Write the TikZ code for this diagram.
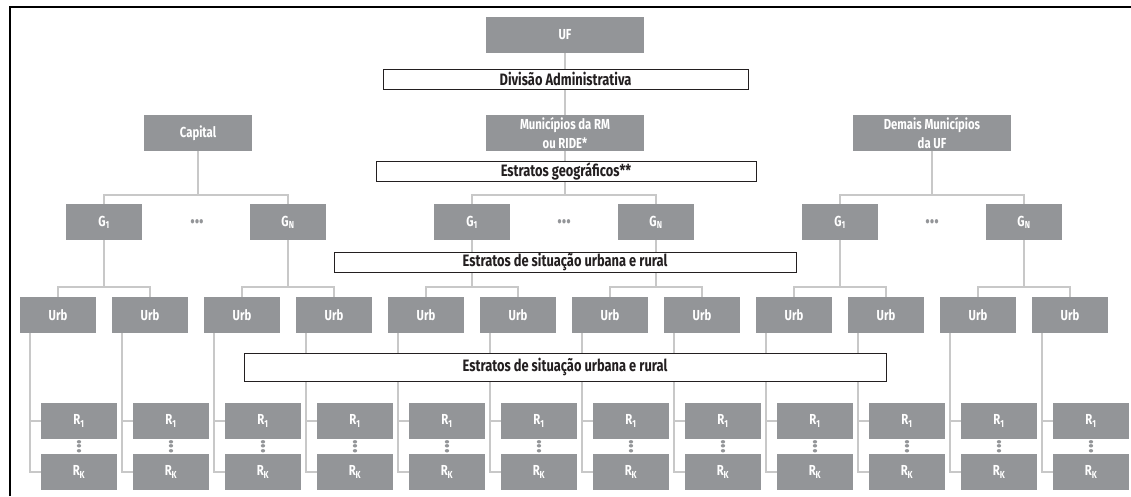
\documentclass[tikz,border=0pt]{standalone}
\usepackage{fontspec}
\newfontfamily\chartfont[FakeStretch=0.78]{Fira Sans}
\usetikzlibrary{positioning}
\definecolor{boxgray}{RGB}{147,149,152}
\definecolor{linkgray}{RGB}{200,200,200}
\definecolor{inkblack}{RGB}{35,31,32}
\pgfdeclarelayer{background}
\pgfsetlayers{background,main}

\begin{document}
\begin{tikzpicture}[x=1pt, y=-1pt,
  graybox/.style={fill=boxgray, text=white, minimum width=76pt, minimum height=36pt,
    inner sep=0pt, align=center, font=\chartfont\bfseries\fontsize{14.5}{19}\selectfont},
  bandbox/.style={draw=inkblack, line width=0.9pt, fill=white, minimum height=20pt,
    inner sep=0pt, text=inkblack, font=\chartfont\bfseries\fontsize{16.5}{17}\selectfont},
  link/.style={draw=linkgray, line width=1.4pt},
  dotmark/.style={text=boxgray, inner sep=0pt, font=\chartfont\bfseries\fontsize{24}{24}\selectfont}]
  \useasboundingbox (0,0) rectangle (1131,496);
  % frame
  \draw[line width=2pt] (9.5,496) -- (9.5,7) -- (1131,7);
  % administrative levels
  \node[graybox, minimum width=158pt] (uf) at (565,35) {UF};
  \node[bandbox, minimum width=365pt] (divisao) at (565.5,79) {Divisão Administrativa};
  \node[graybox, minimum width=108pt] (capital) at (198,133) {Capital};
  \node[graybox, minimum width=158pt] (rm) at (565,133) {Municípios da RM\\ou RIDE*};
  \node[graybox, minimum width=158pt] (demais) at (932,133) {Demais Municípios\\da UF};
  \node[bandbox, minimum width=380pt] (geo) at (566,171) {Estratos geográficos**};
  % geographic strata
  \foreach \j/\sub in {1/1,2/N,3/1,4/N,5/1,6/N}
    \node[graybox] (g\j) at ({104+184*(\j-1)},222) {G\textsubscript{\sub}};
  \foreach \x [count=\k] in {197,564,932}
    \node[dotmark] (gdots\k) at (\x,222) {...};
  \node[bandbox, minimum width=462pt] (situacao) at (565,262) {Estratos de situação urbana e rural};
  % urban / rural strata
  \foreach \i in {1,...,12}{
    \node[graybox] (u\i) at ({58+92*(\i-1)},315) {Urb};
    \node[graybox] (r\i) at ({79+92*(\i-1)},421) {R\textsubscript{1}};
    \node[graybox] (rk\i) at ({79+92*(\i-1)},472) {R\textsubscript{K}};
    \node[dotmark, rotate=90] (rdots\i) at ({79+92*(\i-1)},446.5) {...};
  }
  \node[bandbox, minimum width=642pt, minimum height=28pt] (situacao2) at (565,367) {Estratos de situação urbana e rural};
  % connectors
  \coordinate (lvlg) at (0,195);
  \coordinate (lvlu) at (0,287);
  \begin{pgfonlayer}{background}
    \draw[link] (uf) -- (rm);
    \foreach \t/\a/\b in {capital/1/2, rm/3/4, demais/5/6}{
      \draw[link] (\t.south) -- (\t.south |- lvlg) -| (g\a.north);
      \draw[link] (\t.south |- lvlg) -| (g\b.north);
    }
    \foreach \j in {1,...,6}{
      \pgfmathtruncatemacro\ua{2*\j-1}
      \pgfmathtruncatemacro\ub{2*\j}
      \draw[link] (g\j.south) -- (g\j.south |- lvlu) -| (u\ua.north);
      \draw[link] (g\j.south |- lvlu) -| (u\ub.north);
    }
    \foreach \i in {1,...,12}{
      \coordinate (stem\i) at ([xshift=10pt]u\i.south west);
      \draw[link] (stem\i) |- (rk\i.west);
      \draw[link] (stem\i |- r\i.west) -- (r\i.west);
    }
  \end{pgfonlayer}
\end{tikzpicture}
\end{document}
